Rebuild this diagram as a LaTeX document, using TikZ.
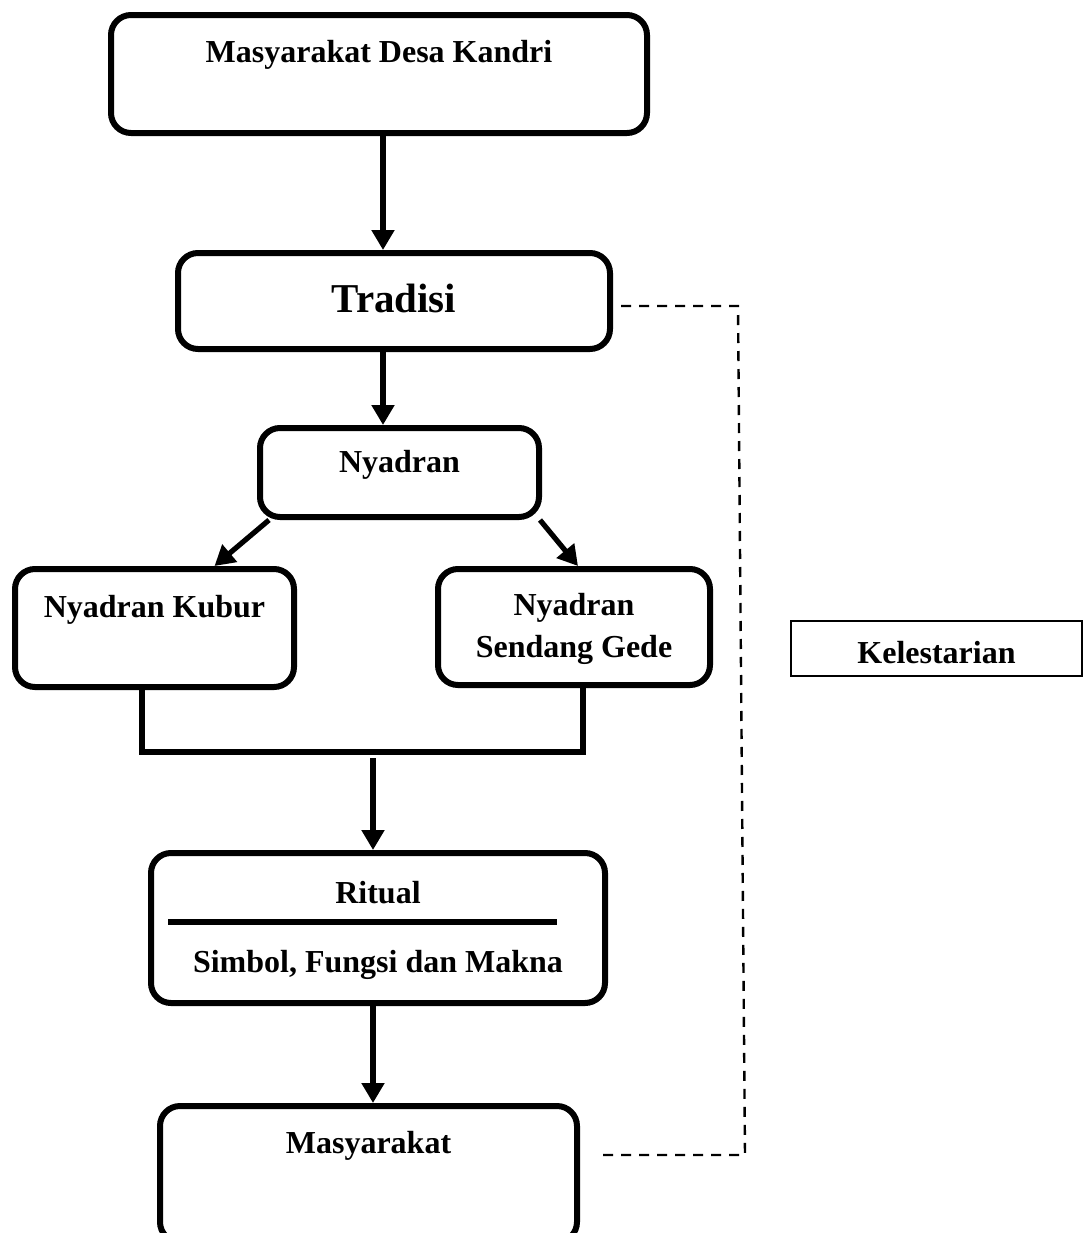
\documentclass[tikz,border=0pt]{standalone}
\usepackage{fontspec}
\setmainfont{Liberation Serif}
\usetikzlibrary{arrows.meta}
\begin{document}
\begin{tikzpicture}[
  x=0.5pt, y=-0.5pt,
  box/.style={draw, line width=3pt, rounded corners=10pt, inner ysep=0pt, align=center, font=\fontsize{16}{21}\selectfont\bfseries},
  tag/.style={draw, line width=1pt, inner ysep=0pt, font=\fontsize{16}{21}\selectfont\bfseries},
  flow/.style={-{Triangle[length=10pt, width=11pt]}, line width=2.6pt},
  bar/.style={line width=3pt},
  keep/.style={line width=1.2pt, dash pattern=on 5pt off 4pt},
]
  \useasboundingbox (0,0) rectangle (1088,1233);

  \node[box, minimum width=268pt, text height=23.5pt, text depth=35.5pt] (desa) at (379,74) {Masyarakat Desa Kandri};
  \node[box, minimum width=216pt, text height=29.5pt, text depth=18.5pt, font=\fontsize{20.5}{24}\selectfont\bfseries] (tradisi) at (394,301) {Tradisi};
  \node[box, minimum width=139.5pt, text height=22pt, text depth=22.5pt] (nyadran) at (399.5,472.5) {Nyadran};
  \node[box, minimum width=139.5pt, text height=24pt, text depth=35pt] (kubur) at (154.5,628) {Nyadran Kubur};
  \node[box, minimum width=136pt, text height=44pt, text depth=14pt] (sendang) at (574,627) {Nyadran\\Sendang Gede};
  \node[box, minimum width=227pt, text height=59.5pt, text depth=15.5pt] (ritual) at (378,928) {Ritual\\[13.5pt]Simbol, Fungsi dan Makna};
  \node[box, minimum width=208.5pt, text height=23.5pt, text depth=44.5pt] (masy) at (368.5,1174) {Masyarakat};
  \node[tag, minimum width=145.5pt, text height=21pt, text depth=6.5pt] (lestari) at (936.5,648.5) {Kelestarian};

  \coordinate (join) at (373,752);
  \coordinate (top) at (738,306);
  \coordinate (bot) at (745,1155);
  \coordinate (keepend) at (600,1155);

  \draw[flow] ([xshift=2pt]desa.south) -- ([xshift=2pt]desa.south |- tradisi.north);
  \draw[flow] ([xshift=-5.5pt]tradisi.south) -- ([xshift=-5.5pt]tradisi.south |- nyadran.north);
  \draw[flow] ([xshift=6pt]nyadran.south west) -- ([xshift=30pt]kubur.north);
  \draw[flow] ([xshift=-1pt]nyadran.south east) -- ([xshift=2pt]sendang.north);
  \draw[bar] ([xshift=-6.25pt]kubur.south) |- (join) -| ([xshift=4.5pt]sendang.south);
  \draw[flow] ([yshift=-3pt]join) -- (join |- ritual.north);
  \draw[bar] (168,922) -- (557,922);
  \draw[flow] ([xshift=-2.5pt]ritual.south) -- ([xshift=-2.5pt]ritual.south |- masy.north);

  \draw[keep] ([xshift=4pt,yshift=-2.5pt]tradisi.east) -- (top) -- (bot) -- (keepend);
\end{tikzpicture}
\end{document}
